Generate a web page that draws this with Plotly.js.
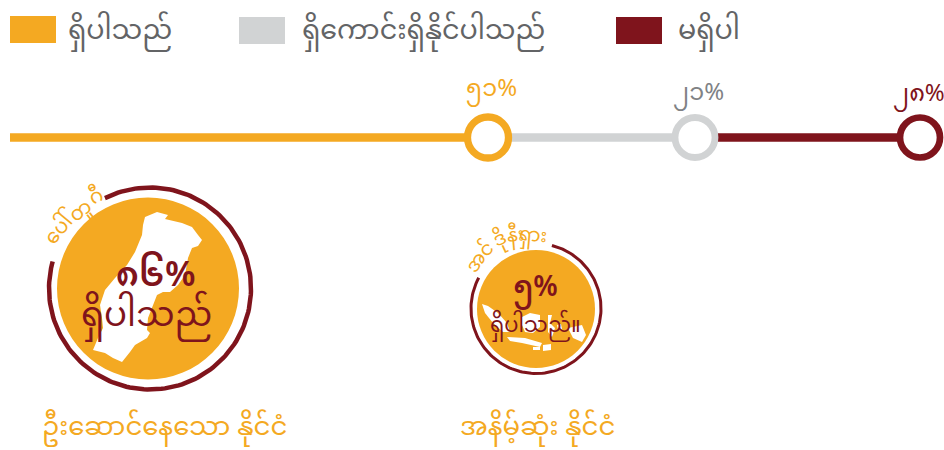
<!DOCTYPE html>
<html><head><meta charset="utf-8"><script src="https://cdn.plot.ly/plotly-3.0.1.min.js"></script>
<style>html,body{margin:0;padding:0;background:#fff}</style></head><body><div id="c" style="width:944px;height:450px"></div>
<script>
// ---- data ----
var legendLabels=['ရှိပါသည်','ရှိကောင်းရှိနိုင်ပါသည်','မရှိပါ'];
var shareLabels=['၅၁%','၂၁%','၂၈%'];
var featuredValues=['၈၆%','၅%'];
var featuredStatus=['ရှိပါသည်','ရှိပါသည်။'];
var featuredCaptions=['ဦးဆောင်နေသော နိုင်ငံ','အနိမ့်ဆုံး နိုင်ငံ'];
var portugalClusters=['ပေါ်','တူ','ဂီ'];
var indonesiaClusters=['အ','င်','ဒို','နီး','ရှား'];
// ---- palette ----
var GOLD='#f4a922',GREY='#d1d3d4',RED='#7f141c',TXT='#636466',PCT='#808285';
var colors=[GOLD,GREY,RED];
var FONT='"Noto Sans Myanmar", "Noto Sans", sans-serif';
// ---- layout geometry (page units) ----
var lineY=137.5,lineStart=10,nodeX=[488,695,920],nodeSize=[41,40,40],nodeWidth=[7.3,6.8,6.7];
var swatchX=[[10,56],[239,285],[616,662]],swatchY=[[16,43],[17,44],[17,44]];
var legendTextX=[66,300,676];
var pctX=[491.5,698.5,919],pctY=[90,94,95];
var big={cx:148,cy:288.5,rx:91,ry:91,rcx:150,rcy:288.5,rr:101,a0:-116.5,a1:197,w:4.5};
var small={cx:536,cy:309,rx:59,ry:59,rcx:536,rcy:308.5,rr:65,a0:-75.8,a1:209,w:3};
var portugal=[[145,217],[157,212],[168,215],[165,219],[182,223],[192,227],[198,235],[202,240],[198,246],[192,248],[188,258],[185,275],[178,285],[170,292],[163,292],[157,295],[148,318],[147,330],[150,333],[147,338],[135,345],[130,352],[122,362],[113,358],[105,353],[93,350],[98,338],[103,328],[102,318],[100,305],[105,290],[115,278],[127,265],[135,252],[142,235],[143,225]];
var indonesia=[
 [[482,304],[488,306],[498,313],[507,323],[510,332],[503,332],[493,323],[485,313]],
 [[522,317],[530,313],[540,315],[540,327],[533,333],[525,332],[522,325]],
 [[507,337],[525,338],[542,343],[540,347],[522,343],[510,341]],
 [[548,315],[552,315],[550,323],[555,328],[552,337],[548,332]],
 [[568,328],[582,325],[586,335],[582,342],[573,338]],
 [[533,347],[540,347],[540,350],[533,350]],
 [[543,345],[551,344],[551,350],[543,351]],
 [[557,325],[561,324],[562,329],[558,330]]
];
function pathOf(p){return 'M'+p.map(function(q){return q[0]+','+q[1];}).join('L')+'Z';}
function arc(c){var x=[],y=[];for(var a=c.a0;a<=c.a1;a+=2){var r=a*Math.PI/180;x.push(c.rcx+c.rr*Math.cos(r));y.push(c.rcy+c.rr*Math.sin(r));}return {x:x,y:y};}
var traces=[];
var segEnds=[nodeX[0],nodeX[1],nodeX[2]],segStarts=[lineStart,nodeX[0],nodeX[1]];
colors.forEach(function(c,i){traces.push({type:'scatter',mode:'lines',x:[segStarts[i],segEnds[i]],y:[lineY,lineY],line:{color:c,width:8.5},hoverinfo:'skip'});});
colors.forEach(function(c,i){traces.push({type:'scatter',mode:'markers',x:[nodeX[i]],y:[lineY],marker:{symbol:'circle',size:nodeSize[i],color:'#fff',line:{color:c,width:nodeWidth[i]}},hoverinfo:'skip'});});
[big,small].forEach(function(c){var a=arc(c);traces.push({type:'scatter',mode:'lines',x:a.x,y:a.y,line:{color:RED,width:c.w},hoverinfo:'skip'});});
var shapes=[];
colors.forEach(function(c,i){shapes.push({type:'rect',xref:'x',yref:'y',x0:swatchX[i][0],x1:swatchX[i][1],y0:swatchY[i][0],y1:swatchY[i][1],fillcolor:c,line:{width:0},layer:'below'});});
[big,small].forEach(function(c){shapes.push({type:'circle',xref:'x',yref:'y',x0:c.cx-c.rx,x1:c.cx+c.rx,y0:c.cy-c.ry,y1:c.cy+c.ry,fillcolor:GOLD,line:{width:0},layer:'below'});});
shapes.push({type:'path',xref:'x',yref:'y',path:pathOf(portugal),fillcolor:'#fff',line:{width:0},layer:'below'});
indonesia.forEach(function(p){shapes.push({type:'path',xref:'x',yref:'y',path:pathOf(p),fillcolor:'#fff',line:{width:0},layer:'below'});});
var ann=[];
function T(text,x,y,size,color,opt){opt=opt||{};ann.push({text:text,x:x,y:y,xref:'x',yref:'y',showarrow:false,xanchor:opt.a||'center',yanchor:'middle',textangle:opt.r||0,font:{family:FONT,size:size,color:color,weight:opt.w||400}});}
function span(s,sz,w){return '<span style="font-size:'+sz+'px;font-weight:'+w+'">'+s+'</span>';}
legendLabels.forEach(function(s,i){T(s,legendTextX[i],32,27,TXT,{a:'left'});});
shareLabels.forEach(function(s,i){T(s,pctX[i],pctY[i],24,[GOLD,PCT,RED][i]);});
T(span('\u00a0\u00a0'+featuredValues[0],35,600)+'<br>'+span(featuredStatus[0],34,400),146,297,31,RED);
T(span(featuredValues[1],28,600)+'<br>'+span(featuredStatus[1],21,400),535,304,28,RED);
T(featuredCaptions[0],164,429,26,GOLD);
T(featuredCaptions[1],537,429,26,GOLD);
var pp=[[62,228,-50],[81,212,-38],[96,198,-25]];
portugalClusters.forEach(function(s,i){T(s,pp[i][0],pp[i][1],20,GOLD,{r:pp[i][2]});});
var ip=[[477,263,-55],[487,250,-40],[500,240,-25],[515,236,-5],[533,236,5]];
indonesiaClusters.forEach(function(s,i){T(s,ip[i][0],ip[i][1],19,GOLD,{r:ip[i][2]});});
Plotly.newPlot('c',traces,{width:944,height:450,showlegend:false,margin:{l:0,r:0,t:0,b:0},paper_bgcolor:'#fff',plot_bgcolor:'#fff',
 xaxis:{range:[0,944],visible:false,fixedrange:true},yaxis:{range:[450,0],visible:false,fixedrange:true},shapes:shapes,annotations:ann},{staticPlot:true});
</script></body></html>
